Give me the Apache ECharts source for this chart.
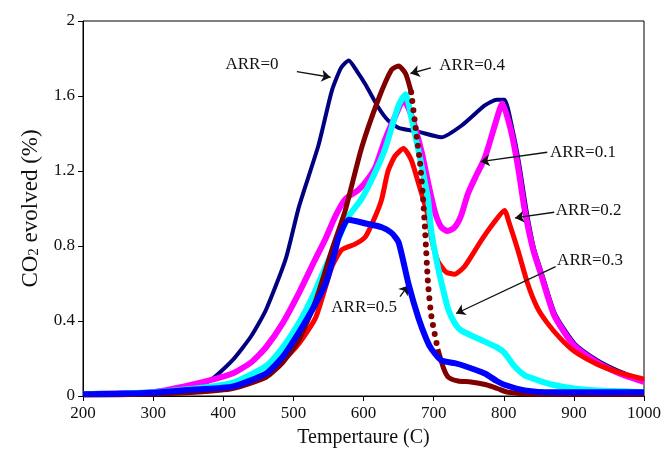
<!DOCTYPE html>
<html><head><meta charset="utf-8">
<script src="https://cdn.jsdelivr.net/npm/echarts@6/dist/echarts.min.js"></script>
<style>html,body{margin:0;padding:0;background:#fff}#c{width:664px;height:461px}</style>
</head><body><div id="c"></div>
<script>
const xTicks = [200,300,400,500,600,700,800,900,1000];
const yTicks = [0,0.4,0.8,1.2,1.6,2];
const seriesNames = ['ARR=0','ARR=0.1','ARR=0.2','ARR=0.3','ARR=0.4','ARR=0.5'];

const arr0 = [[200,0.01],[250,0.015],[300,0.025],[350,0.05],[380,0.08],[413,0.19],[440,0.32],[461,0.46],[489,0.73],[508,1.01],[536,1.34],[555,1.63],[568,1.75],[579,1.79],[591,1.73],[603,1.66],[621,1.54],[635,1.47],[650,1.43],[678,1.41],[711,1.38],[739,1.44],[773,1.55],[790,1.58],[801,1.58],[812,1.43],[822,1.24],[832,1.00],[843,0.79],[854,0.66],[873,0.44],[901,0.28],[934,0.19],[966,0.13],[1000,0.08]];
const arr01 = [[200,0.01],[250,0.015],[300,0.02],[366,0.07],[413,0.12],[440,0.18],[461,0.26],[485,0.39],[508,0.55],[530,0.72],[546,0.84],[560,0.96],[574,1.05],[593,1.10],[605,1.15],[617,1.22],[631,1.37],[645,1.49],[657,1.58],[668,1.50],[683,1.30],[692,1.14],[702,0.98],[711,0.90],[720,0.88],[730,0.90],[739,0.96],[749,1.08],[760,1.17],[773,1.27],[787,1.44],[798,1.56],[810,1.42],[820,1.23],[830,0.99],[842,0.78],[853,0.65],[872,0.43],[900,0.27],[933,0.18],[965,0.12],[1000,0.075]];
const arr02 = [[200,0.01],[250,0.012],[300,0.018],[360,0.03],[413,0.06],[461,0.12],[485,0.19],[508,0.28],[532,0.42],[555,0.69],[569,0.78],[588,0.81],[603,0.85],[617,0.96],[626,1.05],[635,1.20],[645,1.28],[657,1.32],[668,1.26],[678,1.14],[692,0.96],[697,0.84],[706,0.72],[718,0.66],[730,0.65],[744,0.69],[758,0.77],[768,0.83],[785,0.92],[801,0.99],[808,0.92],[820,0.78],[834,0.60],[848,0.47],[862,0.39],[880,0.31],[900,0.24],[933,0.17],[965,0.125],[1000,0.09]];
const arr03 = [[200,0.01],[250,0.013],[300,0.02],[360,0.04],[413,0.07],[461,0.16],[485,0.26],[508,0.39],[530,0.55],[546,0.69],[563,0.83],[579,0.96],[597,1.05],[615,1.18],[631,1.32],[650,1.55],[660,1.61],[668,1.49],[680,1.28],[692,1.05],[697,0.87],[706,0.69],[714,0.56],[721,0.46],[730,0.39],[739,0.35],[767,0.30],[790,0.26],[801,0.23],[815,0.16],[830,0.11],[848,0.085],[870,0.06],[900,0.04],[933,0.03],[970,0.025],[1000,0.02]];
const arr04 = [[200,0.005],[300,0.01],[360,0.02],[413,0.04],[461,0.10],[485,0.18],[508,0.30],[532,0.51],[555,0.78],[574,0.99],[597,1.32],[621,1.58],[640,1.74],[650,1.76],[660,1.72],[668,1.62],[675,1.41],[681,1.23],[685,1.05],[688,0.87],[692,0.60],[697,0.42],[706,0.25],[714,0.15],[721,0.10],[735,0.08],[753,0.075],[775,0.06],[791,0.04],[806,0.02],[850,0.01],[1000,0.01]];
const arr05 = [[200,0.01],[250,0.012],[300,0.018],[360,0.035],[413,0.05],[461,0.12],[485,0.21],[508,0.34],[530,0.48],[546,0.60],[558,0.75],[565,0.85],[579,0.94],[603,0.92],[626,0.90],[640,0.87],[650,0.82],[664,0.60],[678,0.42],[690,0.30],[697,0.25],[711,0.19],[730,0.175],[744,0.16],[773,0.12],[790,0.08],[801,0.06],[830,0.03],[870,0.02],[1000,0.02]];
// temperature range where the ARR=0.4 markers are sparse (drawn dotted)
const arr04DotRange = [668, 706];

// annotation anchors in data space: [labelPos, arrowTail, arrowHead]
const notes = [
  [[441,1.77],[505,1.73],[553,1.70]],
  [[913,1.30],[862,1.30],[767,1.25]],
  [[921,0.99],[872,0.98],[816,0.95]],
  [[923,0.72],[874,0.69],[732,0.44]],
  [[755,1.76],[696,1.75],[667,1.72]],
  [[601,0.47],[652,0.53],[664,0.59]]
];

const FONT = 'Liberation Serif';
const colors = ['#000080','#ff00ff','#ff0000','#00ffff','#800000','#0000ff'];
const widths = [4,6,5,6,5,6];
const datas = [arr0,arr01,arr02,arr03,arr04,arr05];

const series = [];
datas.forEach((d, i) => {
  let data = d;
  if (i === 4) {
    data = d.map(p => (p[0] > arr04DotRange[0] && p[0] < arr04DotRange[1]) ? [p[0], null] : p);
  }
  series.push({
    name: seriesNames[i],
    type: 'line',
    data: data,
    showSymbol: false,
    smooth: 0.2,
    connectNulls: false,
    z: 2 + i,
    lineStyle: {color: colors[i], width: widths[i]},
    itemStyle: {color: colors[i]},
    markPoint: {
      symbol: 'circle', symbolSize: 0,
      label: {show: true, formatter: seriesNames[i], fontFamily: FONT, fontSize: 17, color: '#111', position: 'inside'},
      data: [{coord: notes[i][0]}]
    },
    markLine: {
      silent: true,
      symbol: ['none','arrow'], symbolSize: 9,
      label: {show: false},
      lineStyle: {color: '#111', width: 1.3, type: 'solid'},
      data: [[{coord: notes[i][1]},{coord: notes[i][2]}]]
    }
  });
});
series.push({
  name: seriesNames[4] + ' (sparse markers)',
  type: 'line',
  data: arr04.filter(p => p[0] >= arr04DotRange[0] && p[0] <= arr04DotRange[1]),
  showSymbol: false,
  smooth: 0.2,
  z: 6,
  lineStyle: {color: colors[4], width: 6, type: [0, 9], cap: 'round'},
  itemStyle: {color: colors[4]}
});

const chart = echarts.init(document.getElementById('c'));
chart.setOption({
  animation: false,
  backgroundColor: '#fff',
  grid: {left: 83, right: 17, top: 21, bottom: 65, show: true, borderColor: '#000', borderWidth: 1},
  xAxis: {
    type: 'value', min: xTicks[0], max: xTicks[xTicks.length-1], interval: 100,
    name: 'Tempertaure (C)', nameLocation: 'middle', nameGap: 32,
    nameTextStyle: {fontFamily: FONT, fontSize: 20, color: '#111'},
    axisLine: {lineStyle: {color: '#000', width: 1}},
    axisTick: {show: true, length: 5, lineStyle: {color: '#000'}},
    axisLabel: {fontFamily: FONT, fontSize: 17, color: '#111', margin: 9, formatter: v => String(v)},
    splitLine: {show: false}
  },
  yAxis: {
    type: 'value', min: yTicks[0], max: yTicks[yTicks.length-1], interval: 0.4,
    name: '{a|CO}{b|2}{a| evolved (%)}', nameLocation: 'middle', nameGap: 41,
    nameTextStyle: {fontFamily: FONT, color: '#111',
      rich: {a: {fontFamily: FONT, fontSize: 23, color: '#111', verticalAlign: 'bottom', lineHeight: 26},
             b: {fontFamily: FONT, fontSize: 15, color: '#111', verticalAlign: 'bottom', lineHeight: 26, padding: [7,0,0,0]}}},
    axisLine: {lineStyle: {color: '#000', width: 1}},
    axisTick: {show: true, length: 5, lineStyle: {color: '#000'}},
    axisLabel: {fontFamily: FONT, fontSize: 17, color: '#111', margin: 8,
      formatter: v => String(Math.round(v*10)/10)},
    splitLine: {show: false}
  },
  series: series
});
</script></body></html>
